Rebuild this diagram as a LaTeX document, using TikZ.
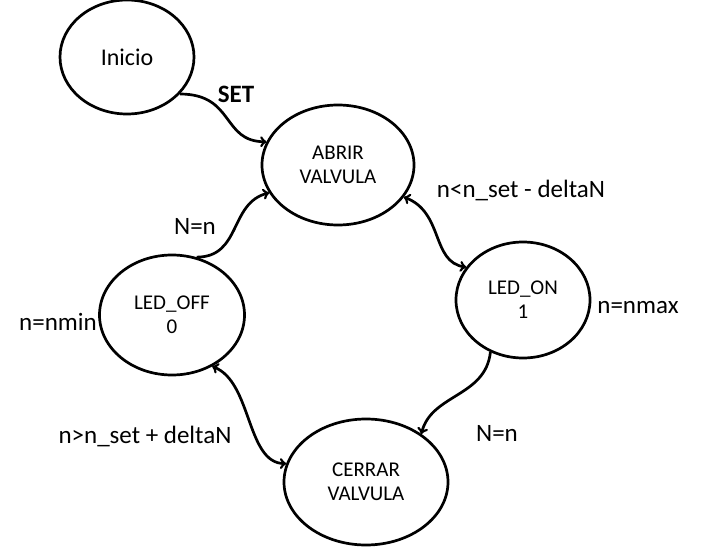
\documentclass[tikz,border=0pt]{standalone}
\usepackage{fontspec}
\setmainfont{Carlito}
\usetikzlibrary{shapes.geometric}

\tikzset{
  estado/.style={draw, ellipse, line width=2.7pt, inner sep=0pt, align=center,
    font=\fontsize{21}{24}\selectfont},
  trans/.style={line width=2.7pt, ->},
  etiqueta/.style={font=\fontsize{25}{28}\selectfont}
}

\begin{document}
\begin{tikzpicture}[x=1pt,y=-1pt]
  \useasboundingbox (0,0) rectangle (707,557);
  % estados
  \node[estado, minimum width=134pt, minimum height=114pt, font=\fontsize{24}{28}\selectfont] (inicio) at (127,57) {Inicio};
  \node[estado, minimum width=152pt, minimum height=120pt] (abrir) at (338,165) {ABRIR\\VALVULA};
  \node[estado, minimum width=134pt, minimum height=116pt] (ledon) at (523,300) {LED\_ON\\1};
  \node[estado, minimum width=145pt, minimum height=120pt] (ledoff) at (172,315) {LED\_OFF\\0};
  \node[estado, minimum width=164pt, minimum height=126pt] (cerrar) at (366,482) {CERRAR\\VALVULA};
  % transiciones
  \draw[trans] (inicio.-35) .. controls +(55,0) and +(-45,0) .. (abrir.162);
  \draw[trans] (ledoff.67) .. controls +(45,0) and +(-40,10) .. (abrir.-158);
  \draw[trans, <->] (abrir.-26) .. controls +(40,15) and +(-35,-5) .. (ledon.150);
  \draw[trans, <->] (ledoff.-52) .. controls +(40,15) and +(-40,0) .. (cerrar.167);
  \draw[trans] (ledon.-122) .. controls +(-5,45) and +(10,-40) .. (cerrar.41);
  % etiquetas
  \node[etiqueta, font=\bfseries\fontsize{25}{28}\selectfont] (lset) at (236,94) {SET};
  \node[etiqueta] (lnn1) at (195,226) {N=n};
  \node[etiqueta] (lmenos) at (521,190) {n<n\_set - deltaN};
  \node[etiqueta] (lmax) at (638,308) {n=nmax};
  \node[etiqueta] (lmin) at (58,322) {n=nmin};
  \node[etiqueta] (lmas) at (145,436) {n>n\_set + deltaN};
  \node[etiqueta] (lnn2) at (497,433) {N=n};
\end{tikzpicture}
\end{document}
